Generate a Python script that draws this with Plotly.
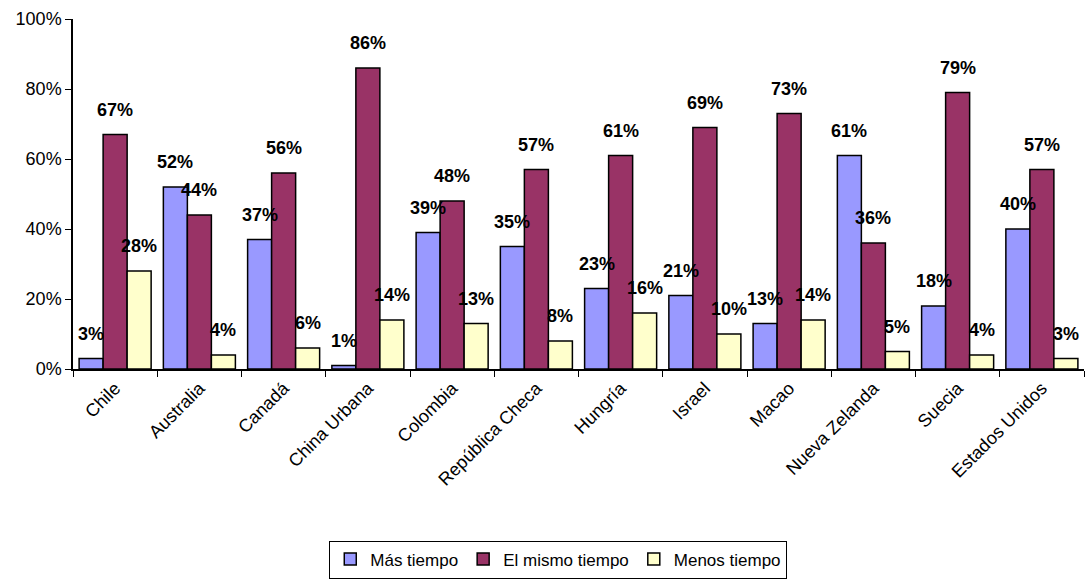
import plotly.graph_objects as go

paises = ["Chile", "Australia", "Canadá", "China Urbana", "Colombia",
          "República Checa", "Hungría", "Israel", "Macao", "Nueva Zelanda",
          "Suecia", "Estados Unidos"]
mas_tiempo = [3, 52, 37, 1, 39, 35, 23, 21, 13, 61, 18, 40]
mismo_tiempo = [67, 44, 56, 86, 48, 57, 61, 69, 73, 36, 79, 57]
menos_tiempo = [28, 4, 6, 14, 13, 8, 16, 10, 14, 5, 4, 3]
y_ticks = [0, 20, 40, 60, 80, 100]

series = [
    ("Más tiempo", mas_tiempo, "#9999FF"),
    ("El mismo tiempo", mismo_tiempo, "#993366"),
    ("Menos tiempo", menos_tiempo, "#FFFFCC"),
]

FONT = "Liberation Sans, Arial, sans-serif"
BAR_W = 0.285

fig = go.Figure()
annotations = []
for k, (name, vals, color) in enumerate(series):
    fig.add_trace(go.Bar(
        name=name, x=paises, y=vals,
        marker=dict(color=color, line=dict(color="black", width=1.5)),
    ))
    offset = (k - 1) * BAR_W
    for i, v in enumerate(vals):
        annotations.append(dict(
            x=i + offset, y=v, xref="x", yref="y",
            text=f"{v}%", showarrow=False,
            yanchor="bottom", yshift=13,
            font=dict(family=FONT, size=18, color="black", weight="bold"),
        ))

fig.update_layout(
    width=1085, height=580,
    margin=dict(l=73, r=1, t=19, b=211),
    paper_bgcolor="white", plot_bgcolor="white",
    barmode="group", bargap=0.145, bargroupgap=0,
    font=dict(family=FONT, color="black"),
    annotations=annotations,
    legend=dict(
        orientation="h", x=0.48, xanchor="center", y=-0.49, yanchor="top",
        bordercolor="black", borderwidth=1,
        font=dict(family=FONT, size=17),
        itemwidth=30, tracegroupgap=0,
    ),
    showlegend=True,
)
fig.update_xaxes(
    showline=True, linecolor="black", linewidth=1.5,
    ticks="outside", tickson="boundaries", ticklen=6, tickcolor="black",
    tickangle=-45, tickfont=dict(family=FONT, size=18),
    showgrid=False,
)
fig.update_yaxes(
    range=[0, 100], tickvals=y_ticks, ticktext=[f"{t}%" for t in y_ticks],
    showline=True, linecolor="black", linewidth=1.5,
    ticks="outside", ticklen=6, tickcolor="black",
    tickfont=dict(family=FONT, size=18),
    showgrid=False, zeroline=False,
)

fig.write_html("out.html")
